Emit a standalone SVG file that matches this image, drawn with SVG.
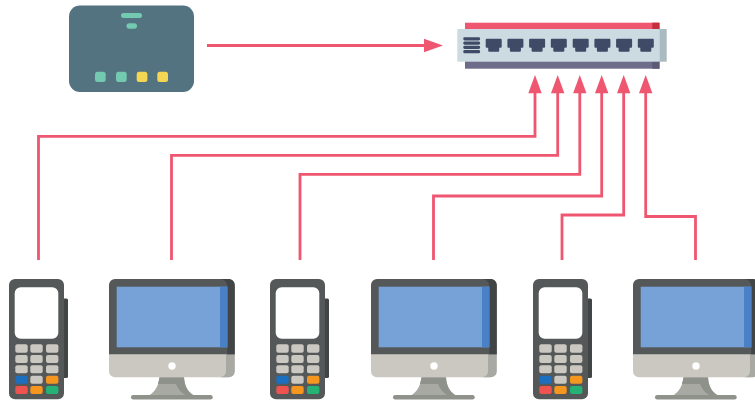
<svg xmlns="http://www.w3.org/2000/svg" width="755" height="401" viewBox="0 0 755 401">
<style>
.wire{fill:none;stroke:#ef5670;stroke-width:2.8}
.head{fill:#ef5670}
.k{fill:#cbc8c1}
.p{fill:#3f4a66}
.m{fill:#3f4a66}
</style>
<defs>
<g id="pos">
<rect x="60" y="298.500" width="8" height="79.500" rx="1.500" fill="#424545"/>
<rect x="9" y="279" width="55" height="120.300" rx="6" fill="#555858"/>
<rect x="14.700" y="287.300" width="43.600" height="51.400" rx="6" fill="#fff"/>
<g class="k">
<rect x="15.300" y="344.300" width="12.400" height="8.400" rx="2"/><rect x="30.300" y="344.300" width="12.400" height="8.400" rx="2"/><rect x="46" y="344.300" width="12.400" height="8.400" rx="2"/>
<rect x="15.300" y="355" width="12.400" height="8" rx="2"/><rect x="30.300" y="355" width="12.400" height="8" rx="2"/><rect x="46" y="355" width="12.400" height="8" rx="2"/>
<rect x="15.300" y="365.300" width="12.400" height="8" rx="2"/><rect x="30.300" y="365.300" width="12.400" height="8" rx="2"/><rect x="46" y="365.300" width="12.400" height="8" rx="2"/>
<rect x="30.300" y="375.700" width="12.400" height="8" rx="2"/>
</g>
<rect x="15.300" y="375.700" width="12.400" height="8" rx="2" fill="#1b6fbe"/>
<rect x="46" y="375.700" width="12.400" height="8" rx="2" fill="#f5961f"/>
<rect x="15.300" y="386" width="12.400" height="8" rx="2" fill="#ee5350"/>
<rect x="30.300" y="386" width="12.400" height="8" rx="2" fill="#f5961f"/>
<rect x="46" y="386" width="12.400" height="8" rx="2" fill="#25b274"/>
</g>
<g id="monitor">
<path d="M159.500 377.300H184C184.500 386 188 392 194 395.500H149C155 392 158.500 386 159.500 377.300Z" fill="#a8a9a3"/>
<path d="M159.500 377.300H184C184.100 379.500 184.400 381.800 185 384H157.900C158.600 381.800 159.200 379.500 159.500 377.300Z" fill="#8f918b"/>
<path d="M176 384H185C186.500 389 189 393 194 395.500H186C181 393 178 389 176 384Z" fill="#8f918b"/>
<rect x="131" y="395" width="81.700" height="4.400" rx="2.200" fill="#8f918b"/>
<path d="M109 354H234.700V371.300A6 6 0 0 1 228.700 377.300H115A6 6 0 0 1 109 371.300Z" fill="#cbc8c1"/>
<path d="M220 354H234.700V371.300A6 6 0 0 1 228.700 377.300H220A6 6 0 0 0 226 371.300V354Z" fill="#a8a9a3"/>
<path d="M115 279H228.700A6 6 0 0 1 234.700 285V354.300H109V285A6 6 0 0 1 115 279Z" fill="#555858"/>
<path d="M220 279H228.700A6 6 0 0 1 234.700 285V354.300H227.300V286A7 7 0 0 0 220 279Z" fill="#424545"/>
<rect x="116.700" y="286.700" width="110.600" height="60.600" fill="#76a2d8"/>
<rect x="220" y="286.700" width="7.300" height="60.600" fill="#4a81c6"/>
<circle cx="172" cy="366" r="3.700" fill="#fff"/>
</g>
<path id="port" class="p" d="M486.700 38.800H500.700A1 1 0 0 1 501.700 39.800V46.700A1 1 0 0 1 500.700 47.700H499.200V50.700A1 1 0 0 1 498.200 51.700H489.200A1 1 0 0 1 488.200 50.700V47.700H486.700A1 1 0 0 1 485.700 46.700V39.800A1 1 0 0 1 486.700 38.800Z"/>
<polygon id="up" class="head" points="0,0 6.700,18.300 -6.700,18.300"/>
</defs>

<g id="connectors">
<path class="wire" d="M207 45.500H428"/>
<polygon class="head" points="443,45.500 424,38.800 424,52.200"/>
<path class="wire" d="M38.500 260V136.300H535V90"/>
<path class="wire" d="M171.500 260V155.300H557.700V90"/>
<path class="wire" d="M300 260V174.300H579.800V90"/>
<path class="wire" d="M433.500 260V196H601.700V90"/>
<path class="wire" d="M562 260V215H623.700V90"/>
<path class="wire" d="M695.500 260V216.500H645.700V90"/>
<use href="#up" x="535" y="75"/>
<use href="#up" x="557.700" y="75"/>
<use href="#up" x="579.800" y="75"/>
<use href="#up" x="601.700" y="75"/>
<use href="#up" x="623.700" y="75"/>
<use href="#up" x="645.700" y="75"/>
</g>

<g id="router">
<rect x="69" y="5.500" width="125" height="86.500" rx="11" fill="#52737f"/>
<rect x="121" y="13" width="21" height="5" rx="2.500" fill="#74c9b1"/>
<rect x="126.500" y="23.300" width="10.500" height="5.400" rx="2.700" fill="#74c9b1"/>
<rect x="95" y="71.700" width="10.700" height="10.300" rx="2.500" fill="#74c9b1"/>
<rect x="116" y="71.700" width="10.700" height="10.300" rx="2.500" fill="#74c9b1"/>
<rect x="136.700" y="71.700" width="10.700" height="10.300" rx="2.500" fill="#f5d652"/>
<rect x="157.300" y="71.700" width="10.700" height="10.300" rx="2.500" fill="#f5d652"/>
</g>

<g id="switch">
<rect x="465" y="22.700" width="194.500" height="7" fill="#ef5670"/>
<rect x="652.300" y="22.700" width="7.200" height="7" fill="#c42f3c"/>
<rect x="465" y="61" width="194.500" height="7.700" fill="#6f6c8a"/>
<rect x="652.300" y="61" width="7.200" height="7.700" fill="#5c5a75"/>
<rect x="659.300" y="29" width="7.400" height="32.700" fill="#a9bac0"/>
<rect x="457.300" y="29" width="202" height="32.700" fill="#ccdae2"/>
<g class="m">
<rect x="463.300" y="37.200" width="16.800" height="3.200" rx="1.400"/>
<rect x="463.300" y="41.500" width="16.800" height="3.200" rx="1.400"/>
<rect x="463.300" y="45.800" width="16.800" height="3.200" rx="1.400"/>
<rect x="463.300" y="50.100" width="16.800" height="3.200" rx="1.400"/>
</g>
<use href="#port"/>
<use href="#port" x="21.700"/>
<use href="#port" x="43.400"/>
<use href="#port" x="65.100"/>
<use href="#port" x="87"/>
<use href="#port" x="108.700"/>
<use href="#port" x="130.400"/>
<use href="#port" x="152.100"/>
</g>

<g id="pos-1"><use href="#pos"/></g>
<g id="monitor-1"><use href="#monitor"/></g>
<g id="pos-2"><use href="#pos" x="261"/></g>
<g id="monitor-2"><use href="#monitor" x="262"/></g>
<g id="pos-3"><use href="#pos" x="524"/></g>
<g id="monitor-3"><use href="#monitor" x="524"/></g>
</svg>
